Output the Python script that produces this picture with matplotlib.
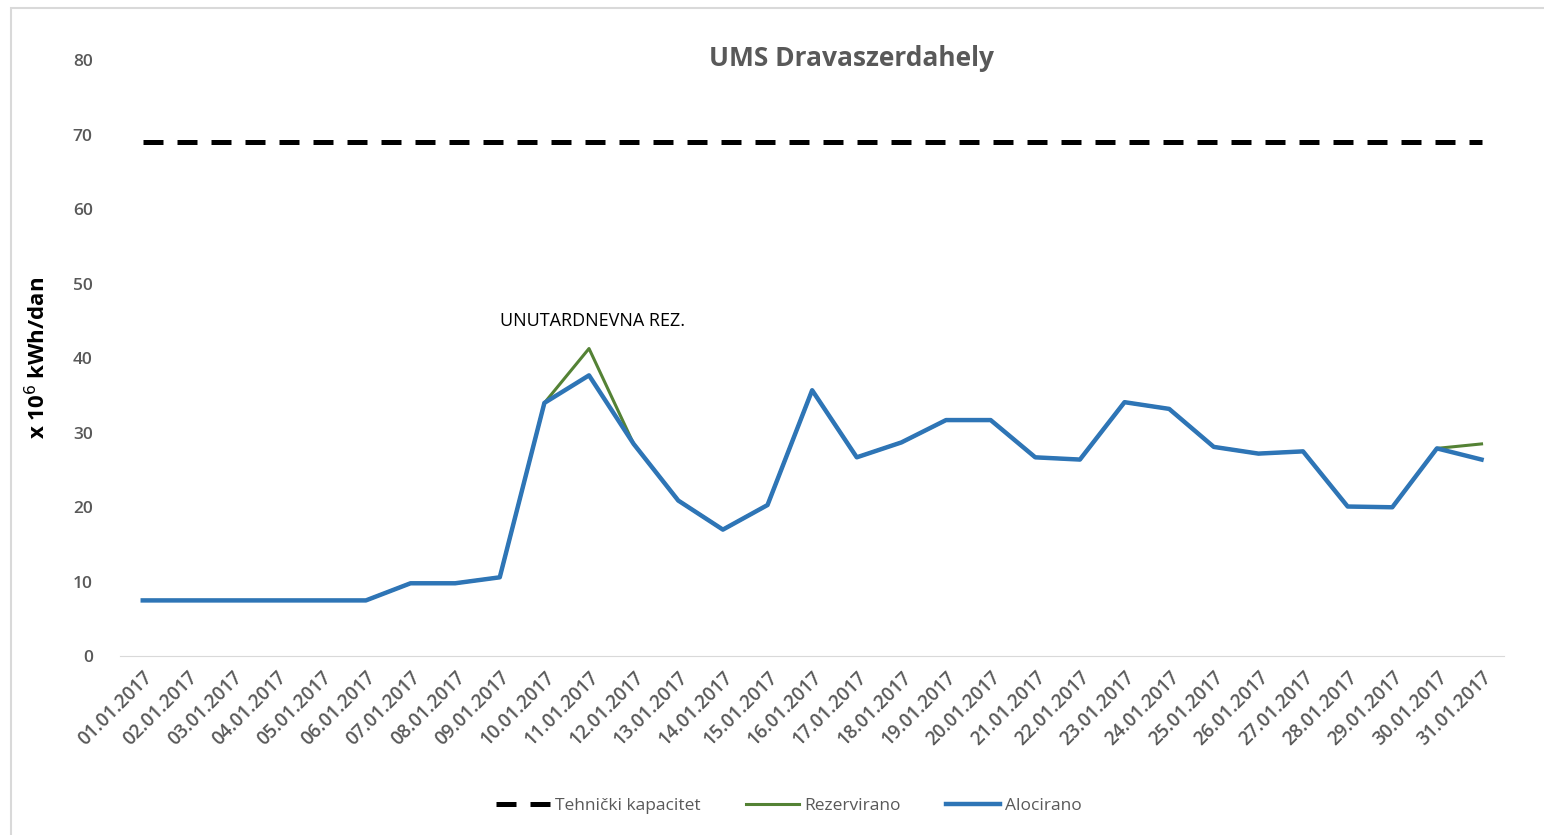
import matplotlib.pyplot as plt
from matplotlib.patches import Rectangle

plt.rcParams['font.family'] = ['Open Sans', 'DejaVu Sans']

dates = ['%02d.01.2017' % d for d in range(1, 32)]
capacity = [69.0] * 31
reserved = [7.5, 7.5, 7.5, 7.5, 7.5, 7.5, 9.8, 9.8, 10.6, 34.0, 41.3, 28.5, 20.9, 17.0, 20.3,
            35.7, 26.7, 28.7, 31.7, 31.7, 26.7, 26.4, 34.1, 33.2, 28.1, 27.2, 27.5, 20.1, 20.0, 27.9, 28.5]
allocated = [7.5, 7.5, 7.5, 7.5, 7.5, 7.5, 9.8, 9.8, 10.6, 34.0, 37.7, 28.5, 20.9, 17.0, 20.3,
             35.7, 26.7, 28.7, 31.7, 31.7, 26.7, 26.4, 34.1, 33.2, 28.1, 27.2, 27.5, 20.1, 20.0, 27.9, 26.4]

fig = plt.figure(figsize=(15.44, 8.35), dpi=100)
ax = fig.add_axes([0.078, 0.214, 0.896, 0.714])
# light frame round the whole chart
fig.patches.append(Rectangle((0.007, -0.01), 1.0, 1.0, transform=fig.transFigure,
                             fill=False, edgecolor='#d9d9d9', linewidth=1.5))

x = range(len(dates))
cap_line, = ax.plot(x, capacity, color='black', lw=3.6, label='Tehnički kapacitet')
cap_line.set_dashes((4.0, 2.8))
ax.plot(x, reserved, color='#548235', lw=2.2, label='Rezervirano')
ax.plot(x, allocated, color='#2E75B6', lw=3.2, label='Alocirano')

ax.set_xlim(-0.5, len(dates) - 0.5)
ax.set_ylim(0, 80)
ax.set_yticks(range(0, 81, 10))
ax.set_xticks(list(x))
ax.set_xticklabels(dates, rotation=45, ha='right', rotation_mode='anchor',
                   fontsize=13.5, color='#595959', fontweight='semibold')
for lab in ax.get_yticklabels():
    lab.set_fontsize(12.5)
    lab.set_color('#595959')
    lab.set_fontweight('semibold')
ax.tick_params(axis='both', length=0)
ax.tick_params(axis='y', pad=20)
ax.tick_params(axis='x', pad=8)

for s in ['top', 'right', 'left']:
    ax.spines[s].set_visible(False)
ax.spines['bottom'].set_color('#d9d9d9')

ax.set_ylabel('x 10$^6$ kWh/dan', fontsize=16, fontweight='bold', labelpad=16)
fig.text(852 / 1544, 1 - 58 / 835, 'UMS Dravaszerdahely', fontsize=19, fontweight='bold',
         color='#595959', ha='center', va='center')

ax.text(8.0, 45.0, 'UNUTARDNEVNA REZ.', fontsize=13, color='black', va='center', ha='left')

fig.legend(loc='center', bbox_to_anchor=(0.511, 0.035), ncol=3, frameon=False,
           fontsize=12.5, handlelength=3.1, columnspacing=2.6, handletextpad=0.3,
           labelcolor='#595959')

fig.savefig('out.png', dpi=100)
